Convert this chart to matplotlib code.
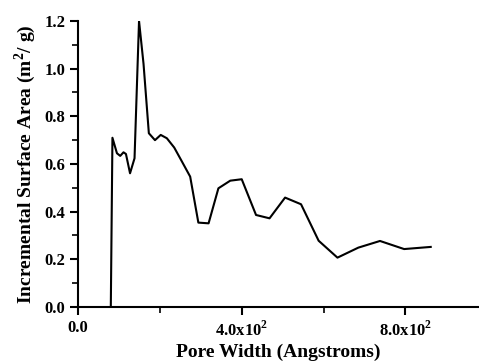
import numpy as np
import matplotlib.pyplot as plt
from matplotlib.ticker import MultipleLocator, FixedLocator

# 孔径分布数据
pore_width = [80, 84, 95, 103, 111, 117, 127, 138, 149, 160, 173, 188, 202, 217,
              235, 253, 274, 294, 319, 343, 372, 400, 435, 468, 506, 545, 588,
              634, 685, 738, 797, 862]
surface_area = [0.0, 0.71, 0.645, 0.634, 0.649, 0.642, 0.561, 0.624, 1.2, 1.02,
                0.729, 0.70, 0.722, 0.708, 0.669, 0.613, 0.547, 0.354, 0.351,
                0.498, 0.530, 0.536, 0.386, 0.372, 0.459, 0.431, 0.278, 0.207,
                0.249, 0.277, 0.243, 0.252]
x_ticks = [0, 400, 800]
x_tick_labels = ['0.0', r'4.0x10$^{\mathbf{2}}$', r'8.0x10$^{\mathbf{2}}$']

plt.rcParams['font.family'] = 'Liberation Serif'
plt.rcParams['font.weight'] = 'bold'
plt.rcParams['mathtext.fontset'] = 'custom'
plt.rcParams['mathtext.rm'] = 'Liberation Serif:bold'
plt.rcParams['mathtext.bf'] = 'Liberation Serif:bold'

fig = plt.figure(figsize=(4.79, 3.62), dpi=100)
ax = fig.add_axes([0.163, 0.152, 0.837, 0.790])
ax.plot(pore_width, surface_area, color='black', lw=1.5)

ax.set_xlim(0, 980)
ax.set_ylim(0, 1.2)
ax.xaxis.set_major_locator(FixedLocator(x_ticks))
ax.set_xticklabels(x_tick_labels)
ax.xaxis.set_minor_locator(MultipleLocator(200))
ax.yaxis.set_major_locator(MultipleLocator(0.2))
ax.yaxis.set_minor_locator(MultipleLocator(0.1))
ax.yaxis.set_major_formatter(plt.FormatStrFormatter('%.1f'))

for s in ['top', 'right']:
    ax.spines[s].set_visible(False)
for s in ['left', 'bottom']:
    ax.spines[s].set_linewidth(1.5)
ax.tick_params(which='major', direction='out', length=6, width=1.5, labelsize=12)
ax.tick_params(which='minor', direction='out', length=4, width=1.2)
ax.tick_params(axis='y', pad=3)

ax.set_xlabel('Pore Width (Angstroms)', fontsize=14, fontweight='bold', labelpad=3)
ax.set_ylabel(r'Incremental Surface Area (m$^{\mathbf{2}}$/ g)', fontsize=14,
              fontweight='bold', labelpad=5)

fig.savefig('out.png', dpi=100)
